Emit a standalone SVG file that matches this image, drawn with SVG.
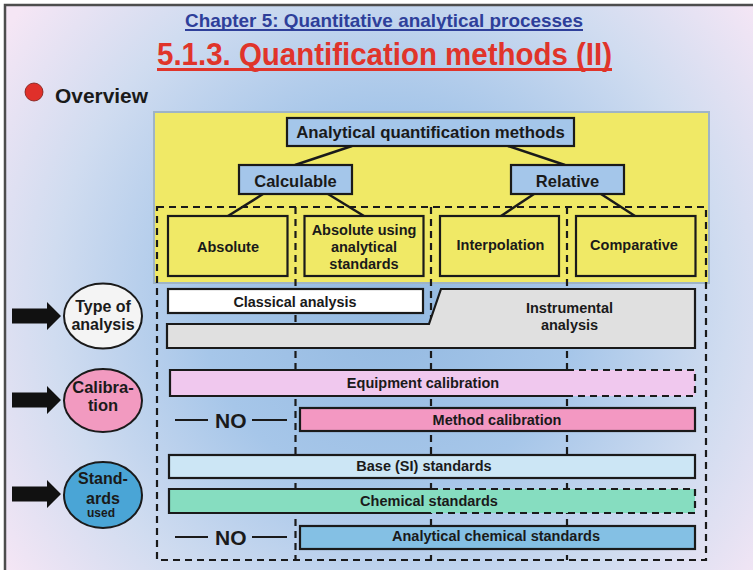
<svg xmlns="http://www.w3.org/2000/svg" width="753" height="570" viewBox="0 0 753 570">
  <defs>
    <radialGradient id="bg" gradientUnits="userSpaceOnUse" cx="390" cy="300" r="470">
      <stop offset="0" stop-color="#93b9e1"/>
      <stop offset="0.4" stop-color="#a6c6e9"/>
      <stop offset="0.72" stop-color="#d0dcf0"/>
      <stop offset="1" stop-color="#f5e6f5"/>
    </radialGradient>
    <path id="arrow" d="M12,-7.5 H47 V-14 L61,0 L47,14 V7.5 H12 Z" fill="#111"/>
    <style>
      .t { font-family: "Liberation Sans", Arial, sans-serif; font-weight: bold; fill: #1a1a1a; }
      .box { stroke: #1a1a1a; stroke-width: 2.2; }
      .blue { fill: #a4c6ea; }
      .yel { fill: #f0e966; }
      .dash { fill: none; stroke: #1a1a1a; stroke-width: 2.2; stroke-dasharray: 7 5; }
      .solid { fill: none; stroke: #1a1a1a; stroke-width: 2.2; }
      .conn { stroke: #1a1a1a; stroke-width: 2.5; fill: none; }
      .c { text-anchor: middle; }
    </style>
  </defs>

  <!-- background -->
  <rect x="0" y="0" width="753" height="570" fill="#ffffff"/>
  <rect x="5" y="5" width="748" height="565" fill="url(#bg)"/>
  <path d="M5,570 V5 H753" fill="none" stroke="#4d4d4d" stroke-width="2.5"/>

  <!-- titles -->
  <g id="titles">
    <text class="t" x="185" y="27" font-size="19" textLength="398" lengthAdjust="spacingAndGlyphs" style="fill:#2e3f9a">Chapter 5: Quantitative analytical processes</text>
    <line x1="185" y1="30" x2="583" y2="30" stroke="#2e3f9a" stroke-width="2"/>
    <text class="t" x="157" y="65" font-size="31" textLength="455" lengthAdjust="spacingAndGlyphs" style="fill:#e0342a">5.1.3. Quantification methods (II)</text>
    <line x1="157" y1="69.5" x2="612" y2="69.5" stroke="#e0342a" stroke-width="3"/>
    <circle cx="34" cy="92" r="9" fill="#e0302a" stroke="#7a1a14" stroke-width="0.8"/>
    <text class="t" x="55" y="103" font-size="20" textLength="93" lengthAdjust="spacingAndGlyphs">Overview</text>
  </g>

  <!-- yellow panel -->
  <rect x="154" y="112" width="555" height="171" fill="#f0e966" stroke="#9fb4c6" stroke-width="2"/>

  <!-- dashed grid -->
  <g id="grid">
    <rect class="dash" x="157" y="207" width="549" height="353"/>
    <line class="dash" x1="295.5" y1="207" x2="295.5" y2="560"/>
    <line class="dash" x1="431" y1="207" x2="431" y2="560"/>
    <line class="dash" x1="567" y1="207" x2="567" y2="560"/>
  </g>

  <!-- connectors -->
  <g id="connectors">
    <line class="conn" x1="352" y1="146" x2="295" y2="165"/>
    <line class="conn" x1="508" y1="146" x2="565" y2="165"/>
    <line class="conn" x1="263" y1="194" x2="228" y2="216"/>
    <line class="conn" x1="328" y1="194" x2="364" y2="216"/>
    <line class="conn" x1="534" y1="194" x2="501" y2="216"/>
    <line class="conn" x1="601" y1="194" x2="635" y2="216"/>
  </g>

  <!-- tree nodes -->
  <g id="node-methods">
    <rect class="box blue" x="287" y="118" width="287" height="28"/>
    <text class="t c" x="430.5" y="138" font-size="16.8">Analytical quantification methods</text>
  </g>
  <g id="node-calculable">
    <rect class="box blue" x="239" y="165" width="113" height="29"/>
    <text class="t c" x="295.5" y="186.5" font-size="16.5">Calculable</text>
  </g>
  <g id="node-relative">
    <rect class="box blue" x="511" y="165" width="113" height="29"/>
    <text class="t c" x="567.5" y="186.5" font-size="16.5">Relative</text>
  </g>
  <g id="node-absolute">
    <rect class="box yel" x="168" y="216" width="119.5" height="60"/>
    <text class="t c" x="228" y="252" font-size="14.5">Absolute</text>
  </g>
  <g id="node-absolute-using">
    <rect class="box yel" x="304.5" y="216" width="119" height="60"/>
    <text class="t c" x="364" y="235" font-size="14.5">Absolute using</text>
    <text class="t c" x="364" y="252" font-size="14.5">analytical</text>
    <text class="t c" x="364" y="269" font-size="14.5">standards</text>
  </g>
  <g id="node-interpolation">
    <rect class="box yel" x="440" y="216" width="119" height="60"/>
    <text class="t c" x="500.5" y="250" font-size="14.5">Interpolation</text>
  </g>
  <g id="node-comparative">
    <rect class="box yel" x="576" y="216" width="119.5" height="60"/>
    <text class="t c" x="634" y="250" font-size="14.5">Comparative</text>
  </g>

  <!-- side labels -->
  <g id="label-type">
    <use href="#arrow" transform="translate(0,316)"/>
    <ellipse cx="103" cy="316" rx="39" ry="32.5" fill="#f4f4f4" stroke="#1a1a1a" stroke-width="2"/>
    <text class="t c" x="103" y="312" font-size="16">Type of</text>
    <text class="t c" x="103" y="330" font-size="16">analysis</text>
  </g>
  <g id="label-calibration">
    <use href="#arrow" transform="translate(0,400)"/>
    <ellipse cx="103" cy="400.5" rx="39" ry="31.5" fill="#f29ac0" stroke="#1a1a1a" stroke-width="2"/>
    <text class="t c" x="103" y="393" font-size="16.5">Calibra-</text>
    <text class="t c" x="103" y="411" font-size="16.5">tion</text>
  </g>
  <g id="label-standards">
    <use href="#arrow" transform="translate(0,494)"/>
    <ellipse cx="103" cy="495" rx="39" ry="33" fill="#4aa5d6" stroke="#1a1a1a" stroke-width="2"/>
    <text class="t c" x="103" y="484" font-size="16">Stand-</text>
    <text class="t c" x="103" y="504" font-size="16">ards</text>
    <text class="t c" x="101" y="517" font-size="12">used</text>
  </g>

  <!-- type of analysis bars -->
  <g id="bar-classical">
    <rect class="box" x="168" y="289" width="255" height="24" fill="#ffffff"/>
    <text class="t c" x="295" y="307" font-size="14.4">Classical analysis</text>
  </g>
  <g id="bar-instrumental">
    <path class="box" d="M167,324 H429 L441,289 H695 V348 H167 Z" fill="#e0e0e0"/>
    <text class="t c" x="569.5" y="313" font-size="14.5">Instrumental</text>
    <text class="t c" x="569.5" y="330" font-size="14.5">analysis</text>
  </g>

  <!-- calibration bars -->
  <g id="bar-equipment">
    <rect x="170" y="370" width="525" height="26" fill="#f0c8ee"/>
    <path class="solid" d="M567,370 H170 V396 H567"/>
    <path class="dash" d="M567,370 H695 V396 H567"/>
    <text class="t c" x="423" y="388" font-size="14.5">Equipment calibration</text>
  </g>
  <g id="no-1">
    <line x1="175" y1="420" x2="208" y2="420" stroke="#1a1a1a" stroke-width="2"/>
    <text class="t" x="215" y="428" font-size="21">NO</text>
    <line x1="252" y1="420" x2="287" y2="420" stroke="#1a1a1a" stroke-width="2"/>
  </g>
  <g id="bar-method">
    <rect class="box" x="300" y="408" width="395" height="23" fill="#f398c2"/>
    <text class="t c" x="497" y="425" font-size="14.5">Method calibration</text>
  </g>

  <!-- standards bars -->
  <g id="bar-base">
    <rect class="box" x="169" y="455" width="526" height="23" fill="#cce6f5"/>
    <text class="t c" x="424" y="471" font-size="14.5">Base (SI) standards</text>
  </g>
  <g id="bar-chemical">
    <rect x="169" y="489" width="526" height="24" fill="#86ddc0"/>
    <path class="solid" d="M431,489 H169 V513 H431"/>
    <path class="dash" d="M431,489 H695 V513 H431"/>
    <text class="t c" x="429" y="506" font-size="14.5">Chemical standards</text>
  </g>
  <g id="no-2">
    <line x1="175" y1="537" x2="208" y2="537" stroke="#1a1a1a" stroke-width="2"/>
    <text class="t" x="215" y="545" font-size="21">NO</text>
    <line x1="252" y1="537" x2="287" y2="537" stroke="#1a1a1a" stroke-width="2"/>
  </g>
  <g id="bar-analytical">
    <rect class="box" x="300" y="526" width="395" height="23" fill="#84c0e4"/>
    <text class="t c" x="496" y="541" font-size="14.5">Analytical chemical standards</text>
  </g>
</svg>
